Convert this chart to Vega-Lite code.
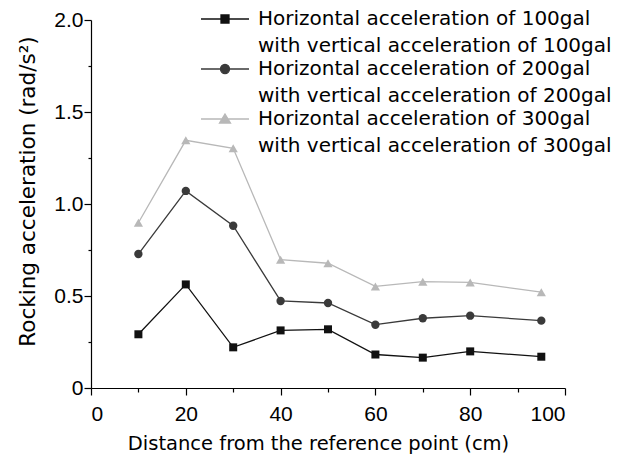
{
  "$schema": "https://vega.github.io/schema/vega-lite/v6.json",
  "width": 474,
  "height": 368,
  "autosize": {"type": "none"},
  "padding": {"left": 91, "top": 20, "right": 54, "bottom": 75},
  "background": "white",
  "config": {
    "view": {"stroke": null},
    "font": "DejaVu Sans",
    "axis": {
      "grid": false,
      "domainColor": "black",
      "domainWidth": 1.2,
      "tickColor": "black",
      "tickWidth": 1.2,
      "labelColor": "black",
      "titleColor": "black",
      "labelFont": "Liberation Sans",
      "labelFontSize": 21,
      "titleFont": "DejaVu Sans",
      "titleFontSize": 19.5,
      "titleFontWeight": "normal"
    },
    "legend": {
      "orient": "none",
      "legendX": 123,
      "legendY": -12,
      "symbolSize": 400,
      "labelFont": "DejaVu Sans",
      "labelFontSize": 20,
      "labelColor": "black",
      "labelLimit": 600,
      "labelOffset": 22,
      "rowPadding": 2,
      "labelBaseline": "middle"
    }
  },
  "data": {
    "values": [
      {"series": "100gal", "distance": 10, "rocking": 0.292},
      {"series": "100gal", "distance": 20, "rocking": 0.563},
      {"series": "100gal", "distance": 30, "rocking": 0.221},
      {"series": "100gal", "distance": 40, "rocking": 0.313},
      {"series": "100gal", "distance": 50, "rocking": 0.319},
      {"series": "100gal", "distance": 60, "rocking": 0.182},
      {"series": "100gal", "distance": 70, "rocking": 0.165},
      {"series": "100gal", "distance": 80, "rocking": 0.199},
      {"series": "100gal", "distance": 95, "rocking": 0.170},
      {"series": "200gal", "distance": 10, "rocking": 0.728},
      {"series": "200gal", "distance": 20, "rocking": 1.071},
      {"series": "200gal", "distance": 30, "rocking": 0.882},
      {"series": "200gal", "distance": 40, "rocking": 0.473},
      {"series": "200gal", "distance": 50, "rocking": 0.462},
      {"series": "200gal", "distance": 60, "rocking": 0.344},
      {"series": "200gal", "distance": 70, "rocking": 0.379},
      {"series": "200gal", "distance": 80, "rocking": 0.393},
      {"series": "200gal", "distance": 95, "rocking": 0.366},
      {"series": "300gal", "distance": 10, "rocking": 0.898},
      {"series": "300gal", "distance": 20, "rocking": 1.346},
      {"series": "300gal", "distance": 30, "rocking": 1.303},
      {"series": "300gal", "distance": 40, "rocking": 0.697},
      {"series": "300gal", "distance": 50, "rocking": 0.678},
      {"series": "300gal", "distance": 60, "rocking": 0.552},
      {"series": "300gal", "distance": 70, "rocking": 0.578},
      {"series": "300gal", "distance": 80, "rocking": 0.574},
      {"series": "300gal", "distance": 95, "rocking": 0.521}
    ]
  },
  "encoding": {
    "x": {
      "field": "distance",
      "type": "quantitative",
      "scale": {"domain": [0, 100], "nice": false, "zero": true},
      "axis": {
        "title": "Distance from the reference point (cm)",
        "titleX": 227,
        "values": [0, 10, 20, 30, 40, 50, 60, 70, 80, 90, 100],
        "labelExpr": "datum.value % 20 === 0 ? datum.label : ''",
        "tickSize": {"condition": {"test": "datum.value % 20 === 0", "value": 7}, "value": 4},
        "labelPadding": 8,
        "titlePadding": 10
      }
    },
    "y": {
      "field": "rocking",
      "type": "quantitative",
      "scale": {"domain": [0, 2], "nice": false},
      "axis": {
        "title": "Rocking acceleration (rad/s²)",
        "titleFontSize": 21.5,
        "titleY": 171,
        "values": [0, 0.25, 0.5, 0.75, 1, 1.25, 1.5, 1.75, 2],
        "labelExpr": "datum.value % 0.5 === 0 ? (datum.value === 0 ? '0' : format(datum.value, '.1f')) : ''",
        "tickSize": {"condition": {"test": "datum.value % 0.5 === 0", "value": 7}, "value": 3},
        "labelPadding": 1,
        "titlePadding": 14
      }
    },
    "color": {
      "field": "series",
      "type": "nominal",
      "scale": {"domain": ["100gal", "200gal", "300gal"], "range": ["#111111", "#3a3a3a", "#b8b8b8"]},
      "legend": {
        "title": null,
        "labelExpr": "['Horizontal acceleration of ' + datum.label, 'with vertical acceleration of ' + datum.label]",
        "encode": {
          "symbols": {
            "update": {
              "shape": {"signal": "datum.value === '100gal' ? 'M-2.4,0H2.4M-0.4,-0.4H0.4V0.4H-0.4Z' : datum.value === '200gal' ? 'M-2.4,0H2.4M-0.45,0A0.45,0.45,0,1,0,0.45,0A0.45,0.45,0,1,0,-0.45,0Z' : 'M-2.4,0H2.4M0,-0.5L0.55,0.4L-0.55,0.4Z'"},
              "fill": {"signal": "datum.value === '100gal' ? '#111111' : datum.value === '200gal' ? '#3a3a3a' : '#b8b8b8'"},
              "stroke": {"signal": "datum.value === '100gal' ? '#333333' : datum.value === '200gal' ? '#444444' : '#b8b8b8'"},
              "strokeWidth": {"value": 1.3},
              "opacity": {"value": 1}
            }
          },
          "labels": {
            "update": {
              "lineHeight": {"value": 27}
            }
          }
        }
      }
    }
  },
  "layer": [
    {
      "mark": {"type": "line", "strokeWidth": 1.3}
    },
    {
      "transform": [{"filter": "datum.series === '100gal'"}],
      "mark": {"type": "point", "shape": "square", "filled": true, "opacity": 1, "size": 64}
    },
    {
      "transform": [{"filter": "datum.series === '200gal'"}],
      "mark": {"type": "point", "shape": "circle", "filled": true, "opacity": 1, "size": 70}
    },
    {
      "transform": [{"filter": "datum.series === '300gal'"}],
      "mark": {"type": "point", "shape": "triangle-up", "filled": true, "opacity": 1, "size": 85}
    }
  ]
}
